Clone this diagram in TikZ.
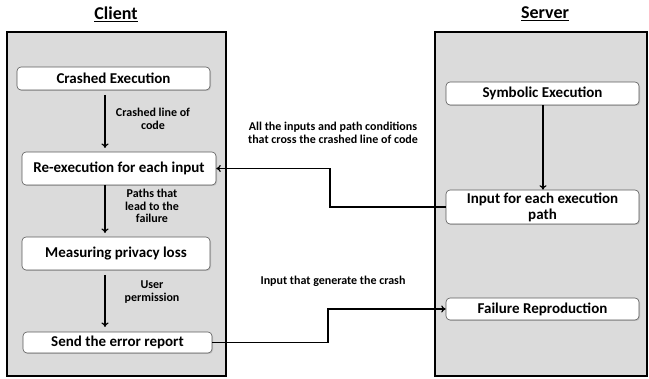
\documentclass[tikz,border=0pt]{standalone}
\usepackage{fontspec}
\setmainfont{Carlito}
\usetikzlibrary{arrows.meta,shadows}
\begin{document}
\begin{tikzpicture}[x=1pt,y=-1pt,
  panel/.style={draw=black,line width=1.6pt,fill=gray!28},
  procbox/.style={draw=gray!70!black,line width=0.6pt,fill=white,rounded corners=4pt,
    font=\bfseries\fontsize{15}{16}\selectfont,align=center,inner sep=0pt,
    drop shadow={shadow xshift=1pt,shadow yshift=-1pt,fill=gray!60,opacity=0.6}},
  lbl/.style={font=\bfseries\fontsize{12}{12.8}\selectfont,align=center},
  ttl/.style={font=\bfseries\fontsize{18}{20}\selectfont},
  conn/.style={line width=1.2pt,-{To[length=4.5pt,width=7pt]}},
  wire/.style={line width=1.2pt}]
\useasboundingbox (0,0) rectangle (649,379);
% panels
\draw[panel] (7,32) rectangle (226,376);
\draw[panel] (435,32) rectangle (647,376);
\node[ttl] (tc) at (116,14) {\underline{Client}};
\node[ttl] (ts) at (545,14) {\underline{Server}};
% client boxes
\node[procbox,minimum width=193pt,minimum height=23pt] (ce) at (113.5,78.5) {Crashed Execution};
\node[procbox,minimum width=194pt,minimum height=33pt] (re) at (119,168.5) {Re-execution for each input};
\node[procbox,minimum width=188pt,minimum height=33pt] (mp) at (116,253.5) {Measuring privacy loss};
\node[procbox,minimum width=189pt,minimum height=21pt] (se) at (117.5,342.5) {Send the error report};
% server boxes
\node[procbox,minimum width=193pt,minimum height=23pt] (sy) at (542.5,93.5) {Symbolic Execution};
\node[procbox,minimum width=193pt,minimum height=34pt,font=\bfseries\fontsize{15}{16}\selectfont] (ip) at (542.5,207) {Input for each execution\\path};
\node[procbox,minimum width=193pt,minimum height=22pt] (fr) at (542.5,309) {Failure Reproduction};
% client arrows
\coordinate (a1s) at (105,95);
\coordinate (a1e) at (105,148);
\draw[conn] (a1s) -- (a1e);
\coordinate (a2s) at (105,185);
\coordinate (a2e) at (105,233);
\draw[conn] (a2s) -- (a2e);
\coordinate (a3s) at (105,275);
\coordinate (a3e) at (105,327);
\draw[conn] (a3s) -- (a3e);
\node[lbl] (l1) at (153,119) {Crashed line of\\code};
\node[lbl] (l2) at (152,206) {Paths that\\lead to the\\failure};
\node[lbl] (l3) at (152,292) {User\\permission};
% server arrow
\draw[conn] (sy.south -| 543,0) -- (ip.north -| 543,0);
% cross connectors
\draw[conn] (ip.west) -- (330,207) -- (330,168.5) -- (re.east);
\draw[conn] (se.east) -- (328,342.5) -- (328,309) -- (fr.west);
\node[lbl] (l4) at (333,133) {All the inputs and path conditions\\that cross the crashed line of code};
\node[lbl] (l5) at (333,281) {Input that generate the crash};
\end{tikzpicture}
\end{document}
